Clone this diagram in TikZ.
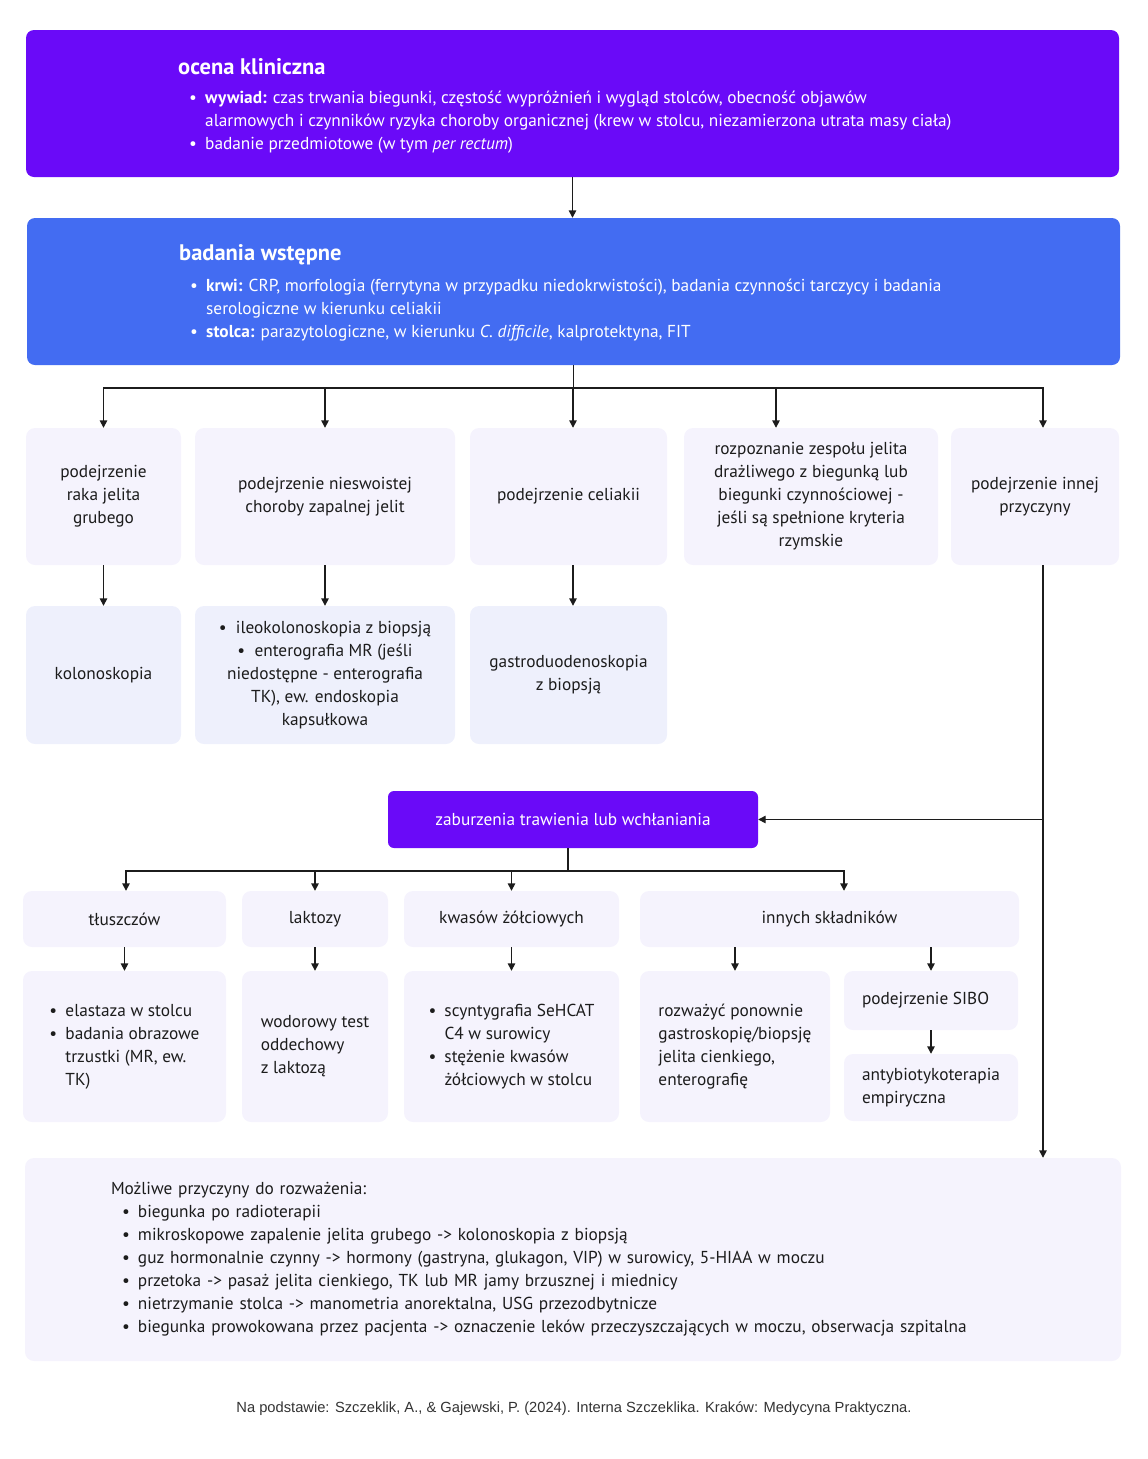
\documentclass[tikz,border=0pt]{standalone}
\usepackage{fontspec}
\setmainfont{PT Sans}
\newfontfamily\zrodlofont{Liberation Sans}
\usetikzlibrary{arrows.meta}
\definecolor{fiolet}{HTML}{6A0AF8}
\definecolor{niebieski}{HTML}{436CF2}
\definecolor{jasny}{HTML}{F5F3FD}
\definecolor{jasnyB}{HTML}{EEF0FC}
\definecolor{tekst}{HTML}{1C1C1C}
\newcommand{\blt}{\makebox[16pt][l]{\textbullet}}
\newcommand{\cnt}{\hspace*{16pt}}

\begin{document}
\begin{tikzpicture}[x=1pt,y=-1pt]
		\tikzstyle{every node}+=[inner sep=0pt, text=tekst, font=\fontsize{17.3}{23}\selectfont]
		\tikzstyle{pole}=[fill=jasny, rounded corners=9pt, align=center]
		\tikzstyle{poleB}=[pole, fill=jasnyB]
		\tikzstyle{naglowek}=[text=white, font=\bfseries\fontsize{22.5}{26}\selectfont]
		\tikzstyle{strz}=[draw=tekst, line width=1.4pt, -{Triangle[length=7.5pt,width=7.5pt]}]
		\tikzstyle{linia}=[draw=tekst, line width=1.4pt]
		\useasboundingbox (0,0) rectangle (1148,1459);
		\node [fill=fiolet, rounded corners=8pt, minimum width=1093pt, minimum height=147pt] (ocena) at (572.5,103.5) {};
		\node [naglowek, anchor=west] (ocenaT) at (178,67) {ocena kliniczna};
		\node [text=white, align=left, anchor=west] (ocenaL) at (189,122) {\blt\textbf{wywiad:} czas trwania biegunki, częstość wypróżnień i wygląd stolców, obecność objawów\\\cnt alarmowych i czynników ryzyka choroby organicznej (krew w stolcu, niezamierzona utrata masy ciała)\\\blt badanie przedmiotowe (w tym \textit{per rectum})};
		\node [fill=niebieski, rounded corners=8pt, minimum width=1093pt, minimum height=147pt] (badania) at (573.5,291.5) {};
		\node [naglowek, anchor=west] (badaniaT) at (179,255) {badania wstępne};
		\node [text=white, align=left, anchor=west] (badaniaL) at (190,310) {\blt\textbf{krwi:} CRP, morfologia (ferrytyna w przypadku niedokrwistości), badania czynności tarczycy i badania\\\cnt serologiczne w kierunku celiakii\\\blt\textbf{stolca:} parazytologiczne, w kierunku \textit{C. difficile}, kalprotektyna, FIT};
		\node [pole, minimum width=155pt, minimum height=137pt] (rak) at (103.5,496.5) {podejrzenie\\raka jelita\\grubego};
		\node [pole, minimum width=260pt, minimum height=137pt] (nzj) at (325,496.5) {podejrzenie nieswoistej\\choroby zapalnej jelit};
		\node [pole, minimum width=197pt, minimum height=137pt] (celiakia) at (568.5,496.5) {podejrzenie celiakii};
		\node [pole, minimum width=254pt, minimum height=137pt] (ibs) at (811,496.5) {rozpoznanie zespołu jelita\\drażliwego z biegunką lub\\biegunki czynnościowej -\\jeśli są spełnione kryteria\\rzymskie};
		\node [pole, minimum width=168pt, minimum height=137pt] (inna) at (1035,496.5) {podejrzenie innej\\przyczyny};
		\node [poleB, minimum width=155pt, minimum height=138pt] (kolono) at (103.5,675) {kolonoskopia};
		\node [poleB, minimum width=260pt, minimum height=138pt] (ileo) at (325,675) {\textbullet\ \ ileokolonoskopia z biopsją\\\textbullet\ \ enterografia MR (jeśli\\niedostępne - enterografia\\TK), ew. endoskopia\\kapsułkowa};
		\node [poleB, minimum width=197pt, minimum height=138pt] (gastro) at (568.5,675) {gastroduodenoskopia\\z biopsją};
		\node [fill=fiolet, rounded corners=6pt, minimum width=370pt, minimum height=57pt, text=white] (zab) at (573,819.5) {zaburzenia trawienia lub wchłaniania};
		\node [pole, minimum width=203pt, minimum height=56pt] (tluszcze) at (124.5,919) {tłuszczów};
		\node [pole, minimum width=146pt, minimum height=56pt] (laktoza) at (315,919) {laktozy};
		\node [pole, minimum width=215pt, minimum height=56pt] (kwasy) at (511.5,919) {kwasów żółciowych};
		\node [pole, minimum width=379pt, minimum height=56pt] (inne) at (829.5,919) {innych składników};
		\node [pole, align=left, minimum width=203pt, minimum height=151pt] (elastaza) at (124.5,1046.5) {\blt elastaza w stolcu\\\blt badania obrazowe\\\cnt trzustki (MR, ew.\\\cnt TK)};
		\node [pole, align=left, minimum width=146pt, minimum height=151pt] (wodor) at (315,1046.5) {wodorowy test\\oddechowy\\z laktozą};
		\node [pole, align=left, minimum width=215pt, minimum height=151pt] (scynty) at (511.5,1046.5) {\blt scyntygrafia SeHCAT\\\cnt C4 w surowicy\\\blt stężenie kwasów\\\cnt żółciowych w stolcu};
		\node [pole, align=left, minimum width=190pt, minimum height=151pt] (rozwaz) at (735,1046.5) {rozważyć ponownie\\gastroskopię/biopsję\\jelita cienkiego,\\enterografię};
		\node [pole, align=left, minimum width=174pt, minimum height=59pt] (sibo) at (931,1000.5) {\rlap{podejrzenie SIBO}\phantom{antybiotykoterapia}};
		\node [pole, align=left, minimum width=174pt, minimum height=67pt] (anty) at (931,1087.5) {antybiotykoterapia\\empiryczna};
		\node [pole, align=left, text width=924pt, inner xsep=86pt, minimum width=1096pt, minimum height=203pt] (dolne) at (573,1259.5) {Możliwe przyczyny do rozważenia:\\\hspace*{11pt}\blt biegunka po radioterapii\\\hspace*{11pt}\blt mikroskopowe zapalenie jelita grubego -> kolonoskopia z biopsją\\\hspace*{11pt}\blt guz hormonalnie czynny -> hormony (gastryna, glukagon, VIP) w surowicy, 5-HIAA w moczu\\\hspace*{11pt}\blt przetoka -> pasaż jelita cienkiego, TK lub MR jamy brzusznej i miednicy\\\hspace*{11pt}\blt nietrzymanie stolca -> manometria anorektalna, USG przezodbytnicze\\\hspace*{11pt}\blt biegunka prowokowana przez pacjenta -> oznaczenie leków przeczyszczających w moczu, obserwacja szpitalna};
		\node [font=\zrodlofont\fontsize{14.7}{17}\selectfont, text=black!80] (zrodlo) at (574,1409) {Na podstawie: Szczeklik, A., \& Gajewski, P. (2024). Interna Szczeklika. Kraków: Medycyna Praktyczna.};
		\coordinate (rozg) at (573.5,388);
		\coordinate (rozgB) at (568,871);
		\draw [strz] (ocena.south) -- (ocena.south |- badania.north);
		\draw [linia] (badania.south) -- (rozg);
		\draw [strz] (rozg) -| (rak.north);
		\draw [strz] (rozg) -| (nzj.north);
		\draw [strz] (rozg) -| ([xshift=4.5pt]celiakia.north);
		\draw [strz] (rozg) -| ([xshift=-35pt]ibs.north);
		\draw [strz] (rozg) -| ([xshift=8pt]inna.north);
		\draw [strz] (rak.south) -- (kolono.north);
		\draw [strz] (nzj.south) -- (ileo.north);
		\draw [strz] ([xshift=4.5pt]celiakia.south) -- ([xshift=4.5pt]gastro.north);
		\draw [strz] ([xshift=8pt]inna.south) -- ([xshift=8pt]inna.south |- dolne.north);
		\draw [strz] ([xshift=8pt]inna.south |- zab.east) -- (zab.east);
		\draw [linia] ([xshift=-5pt]zab.south) -- (rozgB);
		\draw [strz] (rozgB) -| ([xshift=1.5pt]tluszcze.north);
		\draw [strz] (rozgB) -| (laktoza.north);
		\draw [strz] (rozgB) -| (kwasy.north);
		\draw [strz] (rozgB) -| ([xshift=14.5pt]inne.north);
		\draw [strz] (tluszcze.south) -- (elastaza.north);
		\draw [strz] (laktoza.south) -- (wodor.north);
		\draw [strz] (kwasy.south) -- (scynty.north);
		\draw [strz] ([xshift=-94.5pt]inne.south) -- ([xshift=-94.5pt]inne.south |- rozwaz.north);
		\draw [strz] ([xshift=101.5pt]inne.south) -- ([xshift=101.5pt]inne.south |- sibo.north);
		\draw [strz] (sibo.south) -- (anty.north);
		\end{tikzpicture}
\end{document}
